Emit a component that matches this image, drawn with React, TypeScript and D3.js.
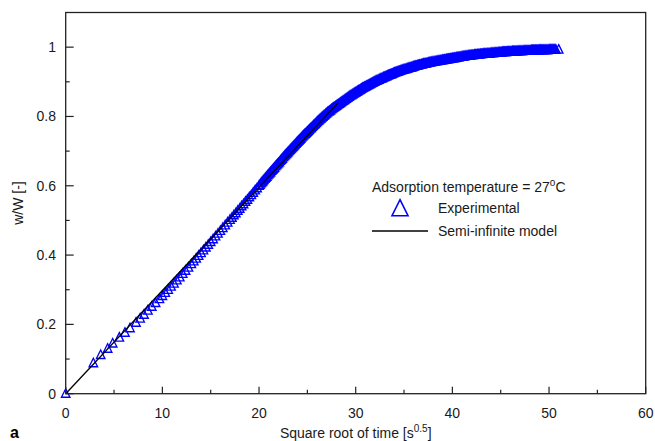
import React from "react";
import * as d3 from "d3";

// Experimental data: square root of time [s^0.5] and fractional uptake w/W [-]
const expSqrtTime: number[] = [
  0, 2.86, 3.62, 4.34, 4.86, 5.55, 6.13, 6.65, 7.27, 7.7, 8.1, 8.5, 8.9, 9.3, 9.7,
  10.0, 10.3, 10.6, 10.9, 11.2, 11.5, 11.8, 12.1, 12.4, 12.7, 13.0, 13.25, 13.5, 13.75,
  14.0, 14.25, 14.5, 14.75, 15.0, 15.25, 15.5, 15.75, 16.0, 16.25, 16.5, 16.75,
  17.0, 17.2, 17.4, 17.6, 17.8, 18.0, 18.2, 18.4, 18.6, 18.8, 19.0, 19.2, 19.4, 19.6, 19.8,
  20.0, 20.1, 20.2, 20.3, 20.4, 20.5, 20.6, 20.7, 20.8, 20.9, 21.0, 21.1, 21.2, 21.3, 21.4, 21.5, 21.6, 21.7, 21.8, 21.9,
  22.0, 22.1, 22.2, 22.3, 22.4, 22.5, 22.6, 22.7, 22.8, 22.9, 23.0, 23.1, 23.2, 23.3, 23.4, 23.5, 23.6, 23.7, 23.8, 23.9,
  24.0, 24.1, 24.2, 24.3, 24.4, 24.5, 24.6, 24.7, 24.8, 24.9, 25.0, 25.1, 25.2, 25.3, 25.4, 25.5, 25.6, 25.7, 25.8, 25.9,
  26.0, 26.1, 26.2, 26.3, 26.4, 26.5, 26.6, 26.7, 26.8, 26.9, 27.0, 27.1, 27.2, 27.3, 27.4, 27.5, 27.6, 27.7, 27.8, 27.9,
  28.0, 28.1, 28.2, 28.3, 28.4, 28.5, 28.6, 28.7, 28.8, 28.9, 29.0, 29.1, 29.2, 29.3, 29.4, 29.5, 29.6, 29.7, 29.8, 29.9,
  30.0, 30.1, 30.2, 30.3, 30.4, 30.5, 30.6, 30.7, 30.8, 30.9, 31.0, 31.1, 31.2, 31.3, 31.4, 31.5, 31.6, 31.7, 31.8, 31.9,
  32.0, 32.1, 32.2, 32.3, 32.4, 32.5, 32.6, 32.7, 32.8, 32.9, 33.0, 33.1, 33.2, 33.3, 33.4, 33.5, 33.6, 33.7, 33.8, 33.9,
  34.0, 34.1, 34.2, 34.3, 34.4, 34.5, 34.6, 34.7, 34.8, 34.9, 35.0, 35.1, 35.2, 35.3, 35.4, 35.5, 35.6, 35.7, 35.8, 35.9,
  36.0, 36.1, 36.2, 36.3, 36.4, 36.5, 36.6, 36.7, 36.8, 36.9, 37.0, 37.1, 37.2, 37.3, 37.4, 37.5, 37.6, 37.7, 37.8, 37.9,
  38.0, 38.1, 38.2, 38.3, 38.4, 38.5, 38.6, 38.7, 38.8, 38.9, 39.0, 39.1, 39.2, 39.3, 39.4, 39.5, 39.6, 39.7, 39.8, 39.9,
  40.0, 40.1, 40.2, 40.3, 40.4, 40.5, 40.6, 40.7, 40.8, 40.9, 41.0, 41.1, 41.2, 41.3, 41.4, 41.5, 41.6, 41.7, 41.8, 41.9,
  42.0, 42.1, 42.2, 42.3, 42.4, 42.5, 42.6, 42.7, 42.8, 42.9, 43.0, 43.1, 43.2, 43.3, 43.4, 43.5, 43.6, 43.7, 43.8, 43.9,
  44.0, 44.1, 44.2, 44.3, 44.4, 44.5, 44.6, 44.7, 44.8, 44.9, 45.0, 45.1, 45.2, 45.3, 45.4, 45.5, 45.6, 45.7, 45.8, 45.9,
  46.0, 46.1, 46.2, 46.3, 46.4, 46.5, 46.6, 46.7, 46.8, 46.9, 47.0, 47.1, 47.2, 47.3, 47.4, 47.5, 47.6, 47.7, 47.8, 47.9,
  48.0, 48.1, 48.2, 48.3, 48.4, 48.5, 48.6, 48.7, 48.8, 48.9, 49.0, 49.1, 49.2, 49.3, 49.4, 49.5, 49.6, 49.7, 49.8, 49.9,
  50.0, 50.1, 50.2, 50.3, 50.4, 50.5, 50.6, 50.7, 51.0,
];
const expUptake: number[] = [
  0, 0.088, 0.112, 0.13, 0.145, 0.162, 0.176, 0.189, 0.205, 0.217, 0.228, 0.24, 0.251, 0.262, 0.273,
  0.282, 0.291, 0.3, 0.309, 0.318, 0.327, 0.336, 0.346, 0.355, 0.364, 0.374, 0.382, 0.39, 0.398,
  0.406, 0.414, 0.422, 0.43, 0.438, 0.446, 0.454, 0.462, 0.47, 0.478, 0.486, 0.494,
  0.502, 0.508, 0.515, 0.521, 0.528, 0.534, 0.541, 0.547, 0.554, 0.56, 0.567, 0.573, 0.58, 0.587, 0.593,
  0.6, 0.603, 0.607, 0.61, 0.613, 0.617, 0.62, 0.623, 0.626, 0.63, 0.633, 0.636, 0.639, 0.643, 0.646, 0.649, 0.652, 0.656, 0.659, 0.662,
  0.665, 0.668, 0.672, 0.675, 0.678, 0.682, 0.685, 0.688, 0.691, 0.694, 0.697, 0.7, 0.703, 0.706, 0.709, 0.712, 0.715, 0.718, 0.721, 0.724,
  0.727, 0.73, 0.733, 0.736, 0.739, 0.742, 0.745, 0.748, 0.75, 0.753, 0.756, 0.759, 0.762, 0.765, 0.767, 0.77, 0.773, 0.776, 0.778, 0.781,
  0.784, 0.787, 0.789, 0.792, 0.794, 0.797, 0.799, 0.802, 0.804, 0.807, 0.809, 0.812, 0.814, 0.816, 0.818, 0.821, 0.823, 0.825, 0.827, 0.829,
  0.831, 0.833, 0.835, 0.837, 0.839, 0.841, 0.843, 0.845, 0.847, 0.849, 0.851, 0.853, 0.855, 0.857, 0.859, 0.861, 0.862, 0.864, 0.866, 0.868,
  0.869, 0.871, 0.873, 0.875, 0.876, 0.878, 0.88, 0.882, 0.883, 0.885, 0.886, 0.888, 0.889, 0.891, 0.892, 0.894, 0.895, 0.897, 0.898, 0.9,
  0.901, 0.903, 0.904, 0.905, 0.906, 0.908, 0.909, 0.91, 0.911, 0.913, 0.914, 0.915, 0.916, 0.918, 0.919, 0.92, 0.921, 0.922, 0.923, 0.925,
  0.926, 0.927, 0.928, 0.929, 0.93, 0.931, 0.932, 0.933, 0.934, 0.935, 0.936, 0.936, 0.937, 0.938, 0.939, 0.94, 0.941, 0.941, 0.942, 0.943,
  0.944, 0.945, 0.946, 0.946, 0.947, 0.948, 0.949, 0.949, 0.95, 0.951, 0.952, 0.952, 0.953, 0.953, 0.954, 0.955, 0.956, 0.956, 0.957, 0.957,
  0.958, 0.958, 0.959, 0.959, 0.96, 0.96, 0.961, 0.961, 0.962, 0.962, 0.963, 0.963, 0.964, 0.964, 0.965, 0.965, 0.966, 0.966, 0.967, 0.967,
  0.968, 0.968, 0.969, 0.969, 0.97, 0.97, 0.971, 0.971, 0.972, 0.972, 0.973, 0.973, 0.974, 0.974, 0.975, 0.975, 0.975, 0.976, 0.976, 0.976,
  0.977, 0.977, 0.977, 0.978, 0.978, 0.978, 0.979, 0.979, 0.979, 0.98, 0.98, 0.98, 0.981, 0.981, 0.981, 0.981, 0.982, 0.982, 0.982, 0.982,
  0.983, 0.983, 0.983, 0.983, 0.984, 0.984, 0.984, 0.984, 0.985, 0.985, 0.985, 0.985, 0.986, 0.986, 0.986, 0.986, 0.986, 0.987, 0.987, 0.987,
  0.987, 0.987, 0.988, 0.988, 0.988, 0.988, 0.988, 0.988, 0.989, 0.989, 0.989, 0.989, 0.989, 0.989, 0.99, 0.99, 0.99, 0.99, 0.99, 0.99,
  0.99, 0.99, 0.991, 0.991, 0.991, 0.991, 0.991, 0.991, 0.991, 0.991, 0.992, 0.992, 0.992, 0.992, 0.992, 0.992, 0.992, 0.992, 0.992, 0.992,
  0.993, 0.993, 0.993, 0.993, 0.993, 0.993, 0.993, 0.993, 0.993,
];

// Semi-infinite model line
const modelSqrtTime: number[] = [0, 28.2];
const modelUptake: number[] = [0, 0.84];

// Axis ticks
const xMajorTicks: number[] = [0, 10, 20, 30, 40, 50, 60];
const xMinorTicks: number[] = [5, 15, 25, 35, 45, 55];
const yMajorTicks: number[] = [0, 0.2, 0.4, 0.6, 0.8, 1];
const yMinorTicks: number[] = [0.1, 0.3, 0.5, 0.7, 0.9];

const W = 655;
const H = 441;
const FONT = "'Liberation Sans', Arial, Helvetica, sans-serif";
const BLUE = "#0000ff";

export default function App() {
  const left = 65.7;
  const right = 645.7;
  const top = 12.5;
  const bottom = 393.7;
  const x = d3.scaleLinear().domain([0, 60]).range([left, right]);
  const y = d3.scaleLinear().domain([0, 1.1]).range([bottom, top]);

  const tri = (s: number) => `M0,${-s * 0.58}L${s / 2},${s * 0.42}L${-s / 2},${s * 0.42}Z`;
  const expPts = expSqrtTime.map((v, i) => [v, expUptake[i]] as [number, number]);
  const modelPts = modelSqrtTime.map((v, i) => [v, modelUptake[i]] as [number, number]);
  const line = d3
    .line<[number, number]>()
    .x((d) => x(d[0]))
    .y((d) => y(d[1]));
  const axisColor = "#222";

  return (
    <svg
      width={W}
      height={H}
      style={{ position: "absolute", left: 0, top: 0, background: "#fff" }}
      fontFamily={FONT}
    >
      <rect x={0} y={0} width={W} height={H} fill="#fff" />
      {/* experimental points */}
      <g fill="none" stroke={BLUE} strokeWidth={1.35}>
        {expPts.map((d, i) => (
          <path key={i} d={tri(8.5)} transform={`translate(${x(d[0])},${y(d[1])})`} />
        ))}
      </g>
      {/* model line */}
      <path d={line(modelPts) || ""} fill="none" stroke="#000" strokeWidth={1.3} />

      {/* frame */}
      <rect
        x={left}
        y={top}
        width={right - left}
        height={bottom - top}
        fill="none"
        stroke={axisColor}
        strokeWidth={1.3}
      />
      {/* ticks */}
      <g stroke={axisColor} strokeWidth={1.2}>
        {xMajorTicks.map((t) => (
          <line key={"xM" + t} x1={x(t)} x2={x(t)} y1={bottom} y2={bottom - 7} />
        ))}
        {xMinorTicks.map((t) => (
          <line key={"xm" + t} x1={x(t)} x2={x(t)} y1={bottom} y2={bottom - 4} />
        ))}
        {yMajorTicks.map((t) => (
          <line key={"yM" + t} x1={left} x2={left + 8} y1={y(t)} y2={y(t)} />
        ))}
        {yMinorTicks.map((t) => (
          <line key={"ym" + t} x1={left} x2={left + 4} y1={y(t)} y2={y(t)} />
        ))}
      </g>
      {/* tick labels */}
      <g fontSize={14} fill="#1a1a1a">
        {xMajorTicks.map((t) => (
          <text key={"xl" + t} x={x(t)} y={418} textAnchor="middle">
            {t}
          </text>
        ))}
        {yMajorTicks.map((t) => (
          <text key={"yl" + t} x={56} y={y(t) + 5} textAnchor="end">
            {String(t)}
          </text>
        ))}
      </g>
      {/* axis titles */}
      <text x={(left + right) / 2} y={438} textAnchor="middle" fontSize={14} fill="#1a1a1a">
        Square root of time [s
        <tspan dy={-6} fontSize={10}>
          0.5
        </tspan>
        <tspan dy={6}>]</tspan>
      </text>
      <text
        transform={`translate(23,${(top + bottom) / 2}) rotate(-90)`}
        textAnchor="middle"
        fontSize={14}
        fill="#1a1a1a"
      >
        w/W [-]
      </text>
      <text x={10} y={438} fontSize={16} fontWeight="bold" fill="#000">
        a
      </text>

      {/* legend */}
      <text x={372} y={191.5} fontSize={14} fill="#1a1a1a">
        Adsorption temperature = 27
        <tspan dy={-6} fontSize={10}>
          o
        </tspan>
        <tspan dy={6}>C</tspan>
      </text>
      <path d={tri(16)} transform="translate(400,209)" fill="none" stroke={BLUE} strokeWidth={1.6} />
      <text x={438} y={213} fontSize={14} fill="#1a1a1a">
        Experimental
      </text>
      <line x1={372} x2={428} y1={231} y2={231} stroke="#000" strokeWidth={1.3} />
      <text x={438} y={236} fontSize={14} fill="#1a1a1a">
        Semi-infinite model
      </text>
    </svg>
  );
}
